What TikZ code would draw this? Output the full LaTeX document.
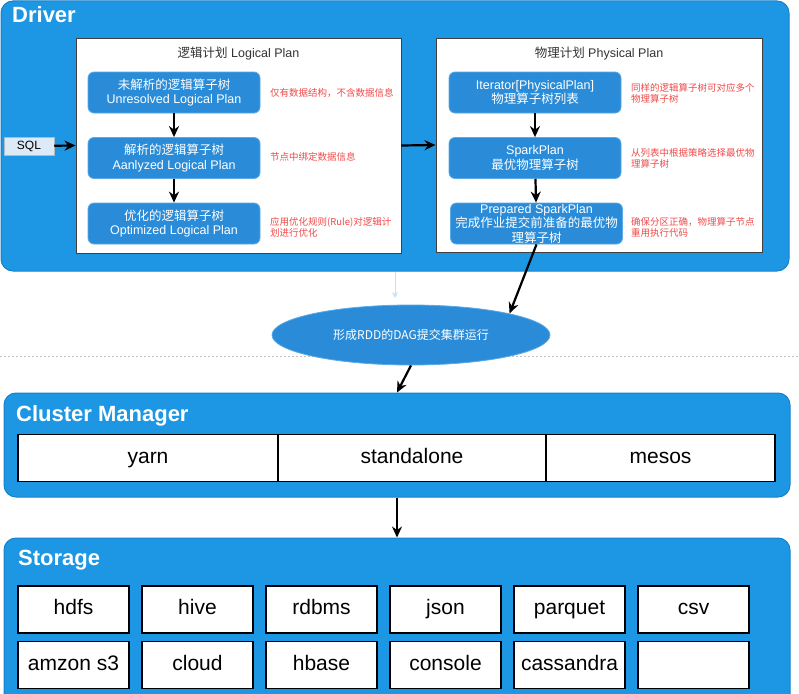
\documentclass[tikz,border=0pt]{standalone}
\usepackage{fontspec}
\setmainfont{Liberation Sans}
\newfontfamily\cjk{Noto Sans CJK SC}
\usetikzlibrary{shapes.geometric,arrows.meta}

\definecolor{panelblue}{HTML}{1D97E4}
\definecolor{paneledge}{HTML}{1681CC}
\definecolor{opblue}{HTML}{2A8CD8}
\definecolor{opedge}{HTML}{5BAAE6}
\definecolor{notered}{HTML}{F04A4A}
\definecolor{sqlfill}{HTML}{DCE9F7}
\newcommand{\fsize}[2]{\fontsize{#1}{#2}\selectfont}

\tikzset{
  panel/.style={fill=panelblue, draw=paneledge, line width=1pt, rounded corners=12pt},
  paneltitle/.style={text=white, anchor=base west, inner sep=0pt, font=\bfseries\fsize{22}{26}},
  planbox/.style={fill=white, draw=black!75, line width=0.9pt},
  plantitle/.style={text=black!80, inner sep=0pt, font=\fsize{12.5}{15}},
  opnode/.style={fill=opblue, draw=opedge, line width=0.8pt, rounded corners=6pt,
    minimum width=172pt, minimum height=41pt, inner sep=0pt, text=white,
    align=center, font=\fsize{12.5}{14.5}},
  note/.style={text=notered, anchor=west, align=left, inner sep=0pt, font=\cjk\fsize{9.5}{11}},
  cell/.style={fill=white, draw=black, line width=1.3pt, minimum height=47pt, inner sep=0pt,
    text height=15pt, text depth=4.5pt, font=\fsize{21}{24}},
  flow/.style={-{Stealth[length=11pt,width=10pt]}, line width=2.2pt, black},
}

\begin{document}
\begin{tikzpicture}[x=1pt,y=-1pt]
\useasboundingbox (0,0) rectangle (799,693);

% driver
\node[panel, minimum width=788pt, minimum height=270pt] (drv) at (395,136) {};
\node[paneltitle] (drvtitle) at (12,23) {Driver};

\node[planbox, minimum width=325pt, minimum height=215pt] (logic) at (238.5,145.5) {};
\node[plantitle] (logictitle) at (238.5,54) {{\cjk 逻辑计划} Logical Plan};
\node[planbox, minimum width=326pt, minimum height=214pt] (phys) at (599,145) {};
\node[plantitle] (phystitle) at (599,54) {{\cjk 物理计划} Physical Plan};

\node[fill=sqlfill, draw=sqlfill!80!black, line width=0.5pt, minimum width=50pt, minimum height=18pt,
  inner sep=0pt, font=\fsize{12}{14}] (sql) at (29,146) {SQL};

\node[opnode] (l1) at (174,92.5) {{\cjk 未解析的逻辑算子树}\\Unresolved Logical Plan};
\node[opnode] (l2) at (174,158) {{\cjk 解析的逻辑算子树}\\Aanlyzed Logical Plan};
\node[opnode] (l3) at (174,223.5) {{\cjk 优化的逻辑算子树}\\Optimized Logical Plan};
\node[note] (n1) at (270,93) {仅有数据结构，不含数据信息};
\node[note] (n2) at (270,157) {节点中绑定数据信息};
\node[note] (n3) at (270,227) {应用优化规则(Rule)对逻辑计\\划进行优化};

\node[opnode] (p1) at (535,92.5) {Iterator[PhysicalPlan]\\{\cjk 物理算子树列表}};
\node[opnode] (p2) at (535,158) {SparkPlan\\{\cjk 最优物理算子树}};
\node[opnode] (p3) at (536.5,223.5) {Prepared SparkPlan\\{\cjk 完成作业提交前准备的最优物}\\{\cjk 理算子树}};
\node[note] (m1) at (631,93.5) {同样的逻辑算子树可对应多个\\物理算子树};
\node[note] (m2) at (631,158.5) {从列表中根据策略选择最优物\\理算子树};
\node[note] (m3) at (631,227.5) {确保分区正确，物理算子节点\\重用执行代码};

% separator and dag
\draw[black!25, line width=1pt, dash pattern=on 1.5pt off 2.5pt] (0,356) -- (799,356);
\coordinate (ghost) at (395,298);
\draw[-{Stealth[length=6pt,width=6pt]}, line width=1pt, opedge!35] (drv.south) -- (ghost);
\node[ellipse, fill=opblue, draw=opedge, line width=0.8pt, minimum width=278pt, minimum height=60pt,
  inner sep=0pt, text=white, font=\cjk\fsize{12}{14}] (dag) at (411,335) {形成RDD的DAG提交集群运行};

% cluster manager
\node[panel, minimum width=786pt, minimum height=104pt] (cm) at (397,445) {};
\node[paneltitle] (cmtitle) at (16,421) {Cluster Manager};
\node[cell, minimum width=260pt] (yarn) at (148,458) {yarn};
\node[cell, minimum width=268pt] (standalone) at (412,458) {standalone};
\node[cell, minimum width=229pt] (mesos) at (660.5,458) {mesos};

% storage
\node[panel, minimum width=786pt, minimum height=170pt] (st) at (397,623) {};
\node[paneltitle] (sttitle) at (18,565) {Storage};
\foreach \name [count=\i from 0] in {hdfs,hive,rdbms,json,parquet,csv}
  \node[cell, minimum width=111pt] (s\i) at (73.5+124*\i,609.5) {\name};
\foreach \name [count=\i from 0] in {amzon s3,cloud,hbase,console,cassandra,{}}
  \node[cell, minimum width=111pt] (t\i) at (73.5+124*\i,665) {\name};

% arrows
\draw[flow] (sql) -- (logic.west);
\draw[flow] (logic.east) -- (phys.west);
\draw[flow] (l1) -- (l2);
\draw[flow] (l2) -- (l3);
\draw[flow] (p1) -- (p2);
\draw[flow] (p2) -- (p3);
\draw[flow] (p3.south) -- (dag.north east);
\draw[flow] (dag.south) -- (cm.north);
\draw[flow] (cm.south) -- (st.north);
\end{tikzpicture}
\end{document}
